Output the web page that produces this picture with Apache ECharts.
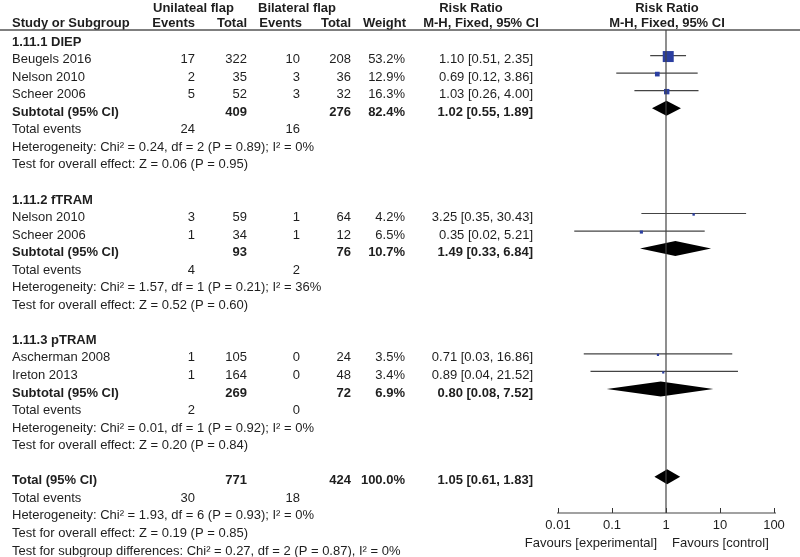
<!DOCTYPE html>
<html><head><meta charset="utf-8">
<script src="https://cdn.jsdelivr.net/npm/echarts@6/dist/echarts.min.js"></script>
<style>html,body{margin:0;padding:0;background:#fff}#c{width:800px;height:557px}</style>
</head><body><div id="c"></div>
<script>
// ---------- DATA ----------
const groupNames = ['1.11.1 DIEP', '1.11.2 fTRAM', '1.11.3 pTRAM'];
const studyNames = ['Beugels 2016', 'Nelson 2010', 'Scheer 2006', 'Nelson 2010', 'Scheer 2006', 'Ascherman 2008', 'Ireton 2013'];
const studyGroup = [0, 0, 0, 1, 1, 2, 2];
const eventsUni = [17, 2, 5, 3, 1, 1, 1];
const totalUni = [322, 35, 52, 59, 34, 105, 164];
const eventsBi = [10, 3, 3, 1, 1, 0, 0];
const totalBi = [208, 36, 32, 64, 12, 24, 48];
const weights = [53.2, 12.9, 16.3, 4.2, 6.5, 3.5, 3.4];
const rr = [1.10, 0.69, 1.03, 3.25, 0.35, 0.71, 0.89];
const ciLow = [0.51, 0.12, 0.26, 0.35, 0.02, 0.03, 0.04];
const ciHigh = [2.35, 3.86, 4.00, 30.43, 5.21, 16.86, 21.52];

const subTotalUni = [409, 93, 269];
const subTotalBi = [276, 76, 72];
const subWeight = [82.4, 10.7, 6.9];
const subRR = [1.02, 1.49, 0.80];
const subLow = [0.55, 0.33, 0.08];
const subHigh = [1.89, 6.84, 7.52];
const subEventsUni = [24, 4, 2];
const subEventsBi = [16, 2, 0];
const subHet = ['Heterogeneity: Chi\u00b2 = 0.24, df = 2 (P = 0.89); I\u00b2 = 0%',
                'Heterogeneity: Chi\u00b2 = 1.57, df = 1 (P = 0.21); I\u00b2 = 36%',
                'Heterogeneity: Chi\u00b2 = 0.01, df = 1 (P = 0.92); I\u00b2 = 0%'];
const subTest = ['Test for overall effect: Z = 0.06 (P = 0.95)',
                 'Test for overall effect: Z = 0.52 (P = 0.60)',
                 'Test for overall effect: Z = 0.20 (P = 0.84)'];

const overallTotalUni = 771;
const overallTotalBi = 424;
const overallWeight = 100.0;
const overallRR = 1.05, overallLow = 0.61, overallHigh = 1.83;
const overallEventsUni = 30, overallEventsBi = 18;
const overallHet = 'Heterogeneity: Chi\u00b2 = 1.93, df = 6 (P = 0.93); I\u00b2 = 0%';
const overallTest = 'Test for overall effect: Z = 0.19 (P = 0.85)';
const subgroupTest = 'Test for subgroup differences: Chi\u00b2 = 0.27, df = 2 (P = 0.87), I\u00b2 = 0%';
const axisTickLabels = ['0.01', '0.1', '1', '10', '100'];

// ---------- LAYOUT ----------
const FONT = '"Liberation Sans", Arial, sans-serif';
const FS = 13;
const TXT = '#1e1e1e';
const ROW_PX = 17.55, ROW0_Y = 42, MARK_SHIFT = -4;
const COL = {name: 12, evU: 195, totU: 247, evB: 300, totB: 351, wt: 405, rr: 533};
const fmtRR = (e, l, h) => e.toFixed(2) + ' [' + l.toFixed(2) + ', ' + h.toFixed(2) + ']';
const fmtW = w => w.toFixed(1) + '%';

const cells = [];
const studyRows = [], subRows = [];
function cell(x, row, text, align, bold) { cells.push({x, row, text: String(text), align: align || 'right', bold: !!bold}); }
let r = 0;
groupNames.forEach((g, gi) => {
  cell(COL.name, r, g, 'left', true); r++;
  studyNames.forEach((n, i) => {
    if (studyGroup[i] !== gi) return;
    cell(COL.name, r, n, 'left');
    cell(COL.evU, r, eventsUni[i]); cell(COL.totU, r, totalUni[i]);
    cell(COL.evB, r, eventsBi[i]); cell(COL.totB, r, totalBi[i]);
    cell(COL.wt, r, fmtW(weights[i]));
    cell(COL.rr, r, fmtRR(rr[i], ciLow[i], ciHigh[i]));
    studyRows[i] = r; r++;
  });
  cell(COL.name, r, 'Subtotal (95% CI)', 'left', true);
  cell(COL.totU, r, subTotalUni[gi], 'right', true);
  cell(COL.totB, r, subTotalBi[gi], 'right', true);
  cell(COL.wt, r, fmtW(subWeight[gi]), 'right', true);
  cell(COL.rr, r, fmtRR(subRR[gi], subLow[gi], subHigh[gi]), 'right', true);
  subRows[gi] = r; r++;
  cell(COL.name, r, 'Total events', 'left');
  cell(COL.evU, r, subEventsUni[gi]); cell(COL.evB, r, subEventsBi[gi]); r++;
  cell(COL.name, r, subHet[gi], 'left'); r++;
  cell(COL.name, r, subTest[gi], 'left'); r++;
  r++;
});
const totalRow = r;
cell(COL.name, r, 'Total (95% CI)', 'left', true);
cell(COL.totU, r, overallTotalUni, 'right', true);
cell(COL.totB, r, overallTotalBi, 'right', true);
cell(COL.wt, r, fmtW(overallWeight), 'right', true);
cell(COL.rr, r, fmtRR(overallRR, overallLow, overallHigh), 'right', true); r++;
cell(COL.name, r, 'Total events', 'left');
cell(COL.evU, r, overallEventsUni); cell(COL.evB, r, overallEventsBi); r++;
cell(COL.name, r, overallHet, 'left'); r++;
cell(COL.name, r, overallTest, 'left'); r++;
cell(COL.name, r, subgroupTest, 'left'); r++;

// table grid (rows -> pixels)
const T_MIN = -1, T_MAX = 29;
// forest grid
const AXIS_Y = 513, VLINE_TOP = 30;
const F_MIN = (VLINE_TOP - ROW0_Y - MARK_SHIFT) / ROW_PX;
const F_MAX = (AXIS_Y - ROW0_Y - MARK_SHIFT) / ROW_PX;
const AXIS_SPAN = [0.0058, 172];

const studyData = studyNames.map((n, i) => [ciLow[i], studyRows[i], ciHigh[i], rr[i], weights[i]]);
const diamondData = groupNames.map((g, gi) => [subLow[gi], subRows[gi], subHigh[gi], subRR[gi]]);
diamondData.push([overallLow, totalRow, overallHigh, overallRR]);

const chart = echarts.init(document.getElementById('c'), null, {renderer: 'canvas'});
const hdr = (x, y, text, align) => ({type: 'text', x, y, style: {text, textAlign: align, textVerticalAlign: 'middle', verticalAlign: 'middle', font: 'bold ' + FS + 'px ' + FONT, fill: TXT}});

chart.setOption({
  animation: false,
  backgroundColor: '#fff',
  grid: [
    {left: 0, width: 800, top: ROW0_Y + T_MIN * ROW_PX, height: (T_MAX - T_MIN) * ROW_PX},
    {left: 558, right: 26, top: VLINE_TOP, height: AXIS_Y - VLINE_TOP}
  ],
  xAxis: [
    {gridIndex: 0, type: 'value', min: 0, max: 800, show: false},
    {gridIndex: 1, type: 'log', min: 0.01, max: 100, logBase: 10, position: 'bottom',
     axisLine: {show: false, onZero: false},
     axisTick: {show: true, inside: true, length: 5, lineStyle: {color: '#333', width: 1}},
     splitLine: {show: false},
     axisLabel: {margin: 6, fontSize: FS, fontFamily: FONT, color: TXT,
       formatter: v => { const k = Math.round(Math.log10(v)) + 2; return axisTickLabels[k] || ''; }}}
  ],
  yAxis: [
    {gridIndex: 0, type: 'value', min: T_MIN, max: T_MAX, inverse: true, show: false},
    {gridIndex: 1, type: 'value', min: F_MIN, max: F_MAX, inverse: true, show: false}
  ],
  graphic: [
    hdr(153, 8, 'Unilateal flap', 'left'),
    hdr(258, 8, 'Bilateral flap', 'left'),
    hdr(471, 8, 'Risk Ratio', 'center'),
    hdr(667, 8, 'Risk Ratio', 'center'),
    hdr(12, 23, 'Study or Subgroup', 'left'),
    hdr(COL.evU, 23, 'Events', 'right'),
    hdr(COL.totU, 23, 'Total', 'right'),
    hdr(COL.evB + 2, 23, 'Events', 'right'),
    hdr(COL.totB, 23, 'Total', 'right'),
    hdr(COL.wt + 1, 23, 'Weight', 'right'),
    hdr(481, 23, 'M-H, Fixed, 95% CI', 'center'),
    hdr(667, 23, 'M-H, Fixed, 95% CI', 'center'),
    {type: 'line', shape: {x1: 0, y1: 30, x2: 800, y2: 30}, style: {stroke: '#555', lineWidth: 1.5}},
    {type: 'text', x: 657, y: 543, style: {text: 'Favours [experimental]', textAlign: 'right', textVerticalAlign: 'middle', verticalAlign: 'middle', font: FS + 'px ' + FONT, fill: TXT}},
    {type: 'text', x: 672, y: 543, style: {text: 'Favours [control]', textAlign: 'left', textVerticalAlign: 'middle', verticalAlign: 'middle', font: FS + 'px ' + FONT, fill: TXT}}
  ],
  series: [
    {
      type: 'custom', xAxisIndex: 0, yAxisIndex: 0, clip: false,
      data: cells.map(c => [c.x, c.row]),
      renderItem: (params, api) => {
        const c = cells[params.dataIndex];
        const p = api.coord([c.x, c.row]);
        return {type: 'text', x: p[0], y: p[1],
          style: {text: c.text, textAlign: c.align, textVerticalAlign: 'middle', verticalAlign: 'middle',
                  font: (c.bold ? 'bold ' : '') + FS + 'px ' + FONT, fill: TXT}};
      }
    },
    {
      type: 'line', xAxisIndex: 1, yAxisIndex: 1, clip: false, symbol: 'none',
      data: [[1, F_MIN], [1, F_MAX]], lineStyle: {color: '#444', width: 1.2}
    },
    {
      type: 'line', xAxisIndex: 1, yAxisIndex: 1, clip: false, symbol: 'none',
      data: [[AXIS_SPAN[0], F_MAX], [AXIS_SPAN[1], F_MAX]], lineStyle: {color: '#444', width: 1.2}
    },
    {
      type: 'custom', xAxisIndex: 1, yAxisIndex: 1, clip: false,
      encode: {x: [0, 2, 3], y: 1},
      data: studyData,
      renderItem: (params, api) => {
        const row = api.value(1);
        const a = api.coord([api.value(0), row]);
        const b = api.coord([api.value(2), row]);
        const e = api.coord([api.value(3), row]);
        const s = Math.max(2.2, 11 * Math.pow(api.value(4) / 53.2, 0.6));
        return {type: 'group', children: [
          {type: 'line', shape: {x1: a[0], y1: a[1], x2: b[0], y2: b[1]}, style: {stroke: '#444', lineWidth: 1.2}},
          {type: 'rect', shape: {x: e[0] - s / 2, y: e[1] - s / 2 + 1, width: s, height: s}, style: {fill: '#2b3ea0'}}
        ]};
      }
    },
    {
      type: 'custom', xAxisIndex: 1, yAxisIndex: 1, clip: false,
      encode: {x: [0, 2, 3], y: 1},
      data: diamondData,
      renderItem: (params, api) => {
        const row = api.value(1);
        const a = api.coord([api.value(0), row]);
        const b = api.coord([api.value(2), row]);
        const e = api.coord([api.value(3), row]);
        const h = 7.5;
        return {type: 'polygon', shape: {points: [[a[0], a[1]], [e[0], e[1] - h], [b[0], b[1]], [e[0], e[1] + h]]},
                style: {fill: '#000'}};
      }
    }
  ]
});
</script></body></html>
